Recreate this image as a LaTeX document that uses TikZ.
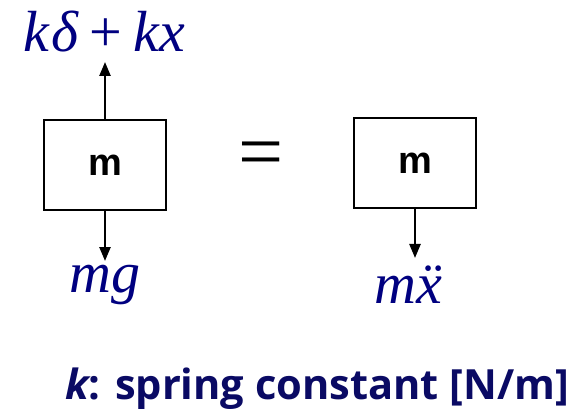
\documentclass[tikz,border=0pt]{standalone}
\usepackage{fontspec}
\setmainfont{Liberation Serif}
\newfontfamily\boxfont{Liberation Sans}
\newfontfamily\notefont{Open Sans}
\usetikzlibrary{arrows.meta}
\definecolor{mathblue}{RGB}{0,0,128}
\definecolor{notenavy}{RGB}{10,10,100}
\begin{document}
\begin{tikzpicture}[x=1pt,y=-1pt,
  mass/.style={draw=black,line width=2.5pt,minimum width=122pt,minimum height=90pt,inner sep=0pt,
    font=\boxfont\bfseries\fontsize{38}{38}\selectfont},
  force/.style={line width=2.4pt,-{Triangle[length=14pt,width=11pt]}},
  mathlab/.style={text=mathblue,font=\fontsize{58}{58}\selectfont\itshape,inner sep=0pt,anchor=base}]
\useasboundingbox (0,0) rectangle (569,411);
\node[mass] (m1) at (105,165) {m};
\node[mass] (m2) at (415,163) {m};
\coordinate (t1) at (105,62);
\coordinate (b1) at (105,261);
\coordinate (b2) at (415,258);
\draw[force] (m1.north) -- (t1);
\draw[force] (m1.south) -- (b1);
\draw[force] (m2.south) -- (b2);
\node[mathlab] (f1) at (104,52) {k\hspace{3pt}δ\hspace{11pt}{\upshape +}\hspace{11pt}kx};
\node[mathlab] (f2) at (105,292) {mg};
\node[mathlab] (f3) at (408,303) {m\"x};
\node[font=\fontsize{80}{80}\selectfont,inner sep=0pt] (eq) at (261,160) {=};
\node[text=notenavy,font=\notefont\bfseries\fontsize{41.6}{41.6}\selectfont,inner sep=0pt,anchor=base west] (note) at (65,399) {\itshape k\upshape: spring constant [N/m]};
\end{tikzpicture}
\end{document}
